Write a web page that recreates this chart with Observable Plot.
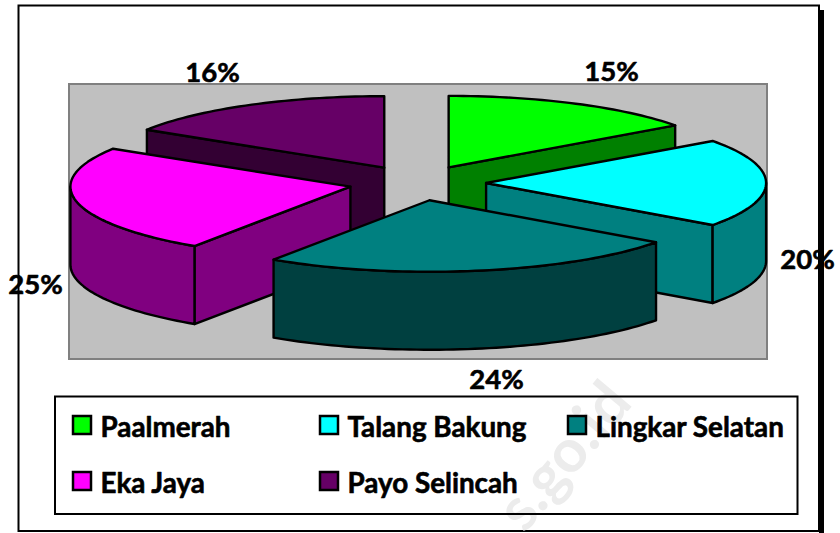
<!DOCTYPE html>
<html><head><meta charset="utf-8">
<script src="https://cdn.jsdelivr.net/npm/d3@7"></script>
<script src="https://cdn.jsdelivr.net/npm/@observablehq/plot@0.6"></script>
<style>html,body{margin:0;padding:0;background:#fff}svg{display:block}</style>
</head><body><div id="chart"></div>
<script>
const categories = ["Paalmerah","Talang Bakung","Lingkar Selatan","Eka Jaya","Payo Selincah"];
const shares = [15.0,20.0,24.4,24.5,16.1];
const topColors = ["#00ff00","#00ffff","#008080","#ff00ff","#660066"];
const sideColors = ["#008000","#008080","#004040","#800080","#330033"];
const paintOrder = [4,0,1,3,2];
const labelAnchors = [[611,72],[807,260],[496,380],[35,285],[212,73]];
const legendCells = [[73,425],[320,425],[568,425],[73,481],[320,481]];

// projection of the 3-D pie
const C = {x:417,y:182.5,rx:280,ry:71.5,depth:78,explode:0.245};
const ang = d => d*Math.PI/180;
let run = 0;
const slices = shares.map((s,i)=>{
  const a0 = run*3.6, a1 = (run+s)*3.6; run += s;
  const m = ang((a0+a1)/2);
  return {i,a0,a1,
    ax:C.x+C.explode*C.rx*Math.sin(m),
    ay:C.y-C.explode*C.ry*Math.cos(m)};
});
const pt = (sl,a,dz=0)=>({x:sl.ax+C.rx*Math.sin(ang(a)),y:sl.ay-C.ry*Math.cos(ang(a))+dz});
const arc = (sl,a,b,dz=0)=>{
  const n = Math.max(2,Math.ceil(Math.abs(b-a)/1.5));
  return d3.range(n+1).map(k=>pt(sl,a+(b-a)*k/n,dz));
};
const apex = (sl,dz=0)=>({x:sl.ax,y:sl.ay+dz});
const faces = sl=>{
  const out = [], side = sideColors[sl.i], top = topColors[sl.i];
  const wall = a => out.push({pts:[apex(sl),pt(sl,a),pt(sl,a,C.depth),apex(sl,C.depth),apex(sl)],fill:side});
  if (Math.cos(ang(sl.a1+90))<-1e-6) wall(sl.a1);
  if (Math.cos(ang(sl.a0-90))<-1e-6) wall(sl.a0);
  const f0 = Math.max(sl.a0,90), f1 = Math.min(sl.a1,270);
  if (f1>f0){
    const p = [...arc(sl,f0,f1),...arc(sl,f1,f0,C.depth)];
    out.push({pts:[...p,p[0]],fill:side});
  }
  out.push({pts:[apex(sl),...arc(sl,sl.a0,sl.a1),apex(sl)],fill:top});
  return out;
};
const pieFaces = [];
for (const i of paintOrder) pieFaces.push(...faces(slices[i]));

const font = "Lato, sans-serif";
const marks = [
  // chart area shadow + border
  Plot.rect([{a:819,b:824,c:10,d:533}],{x1:"a",x2:"b",y1:"c",y2:"d",fill:"#000"}),
  Plot.rect([{a:18.5,b:819,c:5.5,d:531}],{x1:"a",x2:"b",y1:"c",y2:"d",fill:"#fff",stroke:"#000",strokeWidth:2}),
  // watermark
  Plot.text(["s.go.id"],{x:()=>564,y:()=>456,rotate:-50,fontSize:60,fontWeight:700,fontFamily:font,fill:"#ececec"}),
  // plot area
  Plot.rect([{a:69,b:767,c:84,d:359}],{x1:"a",x2:"b",y1:"c",y2:"d",fill:"#c0c0c0",stroke:"#808080",strokeWidth:2}),
  ...pieFaces.map(f=>Plot.line(f.pts,{x:"x",y:"y",fill:f.fill,stroke:"#000",strokeWidth:2.4,curve:"linear",strokeLinejoin:"round"})),
  // data labels
  Plot.text(shares.map((s,i)=>({t:Math.round(s)+"%",x:labelAnchors[i][0],y:labelAnchors[i][1]})),
    {x:"x",y:"y",text:"t",fontSize:27.5,fontWeight:700,fontFamily:font,fill:"#000",stroke:"#000",strokeWidth:0.6}),
  // legend
  Plot.rect([{a:55,b:797.5,c:396.5,d:514}],{x1:"a",x2:"b",y1:"c",y2:"d",fill:"none",stroke:"#000",strokeWidth:2}),
  Plot.rect(legendCells.map((p,i)=>({a:p[0],b:p[0]+18,c:p[1]-9,d:p[1]+9,f:topColors[i]})),
    {x1:"a",x2:"b",y1:"c",y2:"d",fill:"f",stroke:"#000",strokeWidth:2.5}),
  Plot.text(categories.map((t,i)=>({t,x:legendCells[i][0]+27,y:legendCells[i][1]+3})),
    {x:"x",y:"y",text:"t",textAnchor:"start",fontSize:27.8,fontWeight:700,fontFamily:font,fill:"#000",stroke:"#000",strokeWidth:0.6})
];
document.getElementById("chart").append(Plot.plot({
  width:840,height:533,margin:0,
  x:{type:"linear",domain:[0,840],range:[0,840],axis:null},
  y:{type:"linear",domain:[0,533],range:[0,533],axis:null},
  marks
}));
</script></body></html>
